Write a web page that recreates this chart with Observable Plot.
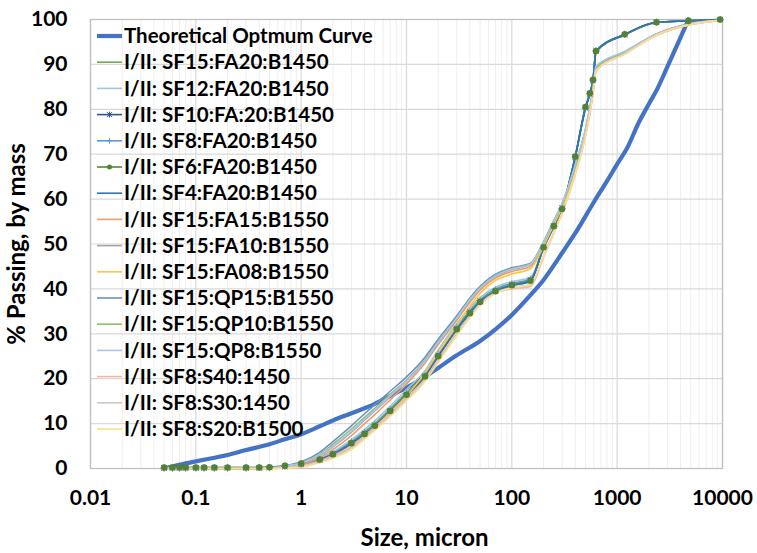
<!DOCTYPE html>
<html>
<head>
<meta charset="utf-8">
<script src="https://cdn.jsdelivr.net/npm/d3@7"></script>
<script src="https://cdn.jsdelivr.net/npm/@observablehq/plot@0.6"></script>
<style>
  html, body { margin: 0; padding: 0; background: #fff; }
  #chart { width: 757px; height: 553px; }
</style>
</head>
<body>
<div id="chart"></div>
<script>
// ---------- data ----------
const xTicks = [0.01, 0.1, 1, 10, 100, 1000, 10000];
const xTickLabels = ["0.01", "0.1", "1", "10", "100", "1000", "10000"];
const yTicks = [0, 10, 20, 30, 40, 50, 60, 70, 80, 90, 100];

const theorySizes = [0.05, 0.075, 0.1, 0.15, 0.2, 0.3, 0.5, 0.7, 1, 1.5, 2, 3, 5, 7, 10, 15, 20, 30, 50, 70, 100, 150, 200, 300, 400, 600, 800, 1000, 1240, 1600, 2000, 2400, 3000, 4000, 4750];
const theoryPassing = [0, 1.0, 1.6, 2.4, 3.0, 4.1, 5.4, 6.5, 7.6, 9.4, 10.7, 12.3, 14.4, 16.2, 18.0, 20.4, 22.4, 25.2, 28.4, 31.0, 34.2, 38.6, 42.0, 48.0, 52.4, 59.3, 64.0, 67.8, 71.3, 77.0, 81.2, 84.5, 89.5, 96.0, 100];

const sizes = [0.05, 0.06, 0.07, 0.08, 0.1, 0.12, 0.15, 0.2, 0.3, 0.4, 0.5, 0.7, 1, 1.5, 2, 3, 4, 5, 7, 10, 15, 20, 30, 40, 50, 70, 100, 150, 200, 250, 300, 400, 500, 550, 590, 630, 1180, 2360, 4750, 9500];

const sf15fa20 = [0.2,0.2,0.2,0.2,0.2,0.2,0.2,0.2,0.2,0.2,0.3, 0.5,1.0,2.1,3.4,6.0,8.2,10.0,13.3,16.9, 21.0,25.6,31.6,35.2,37.6,40.0,41.2,42.2,49.0,53.8, 57.8,69.3,80.3,83.3,86.3,92.8,96.6,99.3,99.7,100];
const sf12fa20 = [0,0,0,0,0,0,0,0,0.1,0.1,0.2, 0.5,1.1,2.3,3.7,6.4,8.7,10.6,13.9,17.6, 21.8,26.4,32.3,35.8,38.1,40.4,41.6,42.6,49.4,54.2, 58.2,69.6,80.4,83.5,86.6,92.9,96.6,99.3,99.7,100];
const sf10fa20 = [0.1,0.1,0.1,0.1,0.1,0.1,0.1,0.1,0.1,0.1,0.2, 0.4,0.9,1.9,3.2,5.7,7.8,9.6,12.9,16.5, 20.6,25.2,31.2,34.9,37.3,39.6,41.0,42.0,49.2,54.0, 58.0,69.4,80.3,83.4,86.4,92.9,96.6,99.4,99.7,100];
const sf8fa20 = [0.1,0.1,0.1,0.1,0.1,0.1,0.1,0.1,0.1,0.2,0.2, 0.5,1.0,2.0,3.3,5.9,8.0,9.8,13.1,16.7, 20.8,25.4,31.4,35.0,37.4,39.8,41.1,42.1,49.1,53.9, 57.9,69.4,80.2,83.5,86.5,93.0,96.7,99.4,99.7,100];
const sf6fa20 = [0.2,0.2,0.2,0.2,0.2,0.2,0.2,0.2,0.2,0.2,0.3, 0.6,1.1,2.0,3.2,5.6,7.7,9.5,12.8,16.4, 20.5,25.0,31.0,34.6,37.1,39.5,40.8,41.8,49.3,54.0, 57.8,69.5,80.5,83.6,86.6,93.0,96.7,99.4,99.7,100];
const sf4fa20 = [0,0,0,0,0,0,0,0,0,0.1,0.1, 0.4,0.9,1.9,3.1,5.5,7.6,9.4,12.6,16.2, 20.3,24.9,30.9,34.5,37.0,39.4,40.7,41.7,49.2,53.9, 57.9,69.4,80.2,83.4,86.4,93.0,96.7,99.4,99.7,100];
const sf15fa15 = [0,0,0,0,0,0,0,0,0,0,0.1, 0.3,0.9,2.4,4.2,7.3,10.0,12.0,15.3,18.8, 23.5,27.6,33.0,37.0,39.7,42.4,43.9,45.0,49.8,54.6, 58.4,66.8,74.8,79.6,84.0,88.8,92.5,96.6,98.9,99.8];
const sf15fa10 = [0,0,0,0,0,0,0,0,0,0,0.1, 0.4,1.1,2.8,4.8,8.1,10.8,12.8,16.0,19.4, 24.0,28.0,33.4,37.4,40.1,42.8,44.3,45.4,50.0,54.8, 58.6,67.0,75.0,79.8,84.2,89.0,92.6,96.7,98.9,99.8];
const sf15fa08 = [0,0,0,0,0,0,0,0,0,0,0, 0.1,0.4,1.5,2.6,4.8,7.2,9.2,12.5,16.2, 21.3,25.8,31.8,36.2,39.0,41.9,43.3,44.5,49.5,54.3, 58.1,66.5,74.6,79.4,83.8,88.6,92.4,96.5,98.8,99.8];
const sf15qp15 = [0,0,0,0,0,0,0,0,0,0,0.1, 0.6,1.5,3.6,6.0,9.5,12.2,14.2,17.2,20.4, 24.8,28.8,34.0,38.0,40.6,43.3,44.7,45.7,50.5,55.2, 59.0,67.5,75.5,80.3,84.5,89.5,92.8,96.8,99.0,99.8];
const sf15qp10 = [0,0,0,0,0,0,0,0,0,0,0.1, 0.5,1.3,3.2,5.4,8.8,11.4,13.4,16.5,19.7, 24.2,28.3,33.6,37.7,40.3,43.0,44.5,45.6,50.3,55.0, 58.8,67.3,75.3,80.1,84.3,89.3,92.7,96.7,99.0,99.8];
const sf15qp8 = [0,0,0,0,0,0,0,0,0,0,0.1, 0.5,1.2,3.0,5.0,8.3,11.0,13.0,16.2,19.5, 24.0,28.1,33.5,37.6,40.2,42.9,44.4,45.5,50.4,55.1, 59.0,67.6,75.6,80.4,84.6,89.6,92.9,96.8,99.0,99.8];
const sf8s40 = [0,0,0,0,0,0,0,0,0,0,0, 0.2,0.6,1.7,2.9,5.0,7.3,9.2,12.3,15.8, 20.0,24.3,30.2,34.0,36.7,39.1,40.0,40.5,47.0,52.3, 56.8,65.5,74.0,79.0,83.5,88.5,92.3,96.5,98.8,99.8];
const sf8s30 = [0,0,0,0,0,0,0,0,0,0,0, 0.2,0.5,1.5,2.6,4.6,6.9,8.9,12.0,15.5, 19.8,24.1,30.0,33.9,36.6,39.2,40.3,40.9,47.4,52.6, 57.0,65.8,74.2,79.2,83.7,88.7,92.4,96.5,98.8,99.8];
const sf8s20 = [0,0,0,0,0,0,0,0,0,0,0, 0.1,0.3,1.3,2.3,4.2,6.6,8.5,11.6,15.1, 19.4,23.6,29.6,33.6,36.4,39.0,40.2,41.0,47.2,52.4, 56.9,65.6,74.1,79.1,83.6,88.6,92.3,96.5,98.8,99.8];

const theoryName = "Theoretical Optmum Curve";
const seriesNames = [
  "I/II: SF15:FA20:B1450", "I/II: SF12:FA20:B1450", "I/II: SF10:FA:20:B1450",
  "I/II: SF8:FA20:B1450", "I/II: SF6:FA20:B1450", "I/II: SF4:FA20:B1450",
  "I/II: SF15:FA15:B1550", "I/II: SF15:FA10:B1550", "I/II: SF15:FA08:B1550",
  "I/II: SF15:QP15:B1550", "I/II: SF15:QP10:B1550", "I/II: SF15:QP8:B1550",
  "I/II: SF8:S40:1450", "I/II: SF8:S30:1450", "I/II: SF8:S20:B1500"
];
const seriesValues = [sf15fa20, sf12fa20, sf10fa20, sf8fa20, sf6fa20, sf4fa20,
  sf15fa15, sf15fa10, sf15fa08, sf15qp15, sf15qp10, sf15qp8, sf8s40, sf8s30, sf8s20];

// ---------- styling ----------
const theoryColor = "#4472C4";
const seriesColors = ["#70AD47", "#9DC3E6", "#2F5597", "#5B9BD5", "#548235", "#2E75B6",
  "#F19A6B", "#A5A5A5", "#FFC53D", "#6A8FD0", "#8CC168", "#A9C4EB",
  "#F4B6A0", "#C9C9C9", "#FFDD8A"];
const seriesMarkers = [null, null, "times", "plus", "dot", null, null, null, null, null, null, null, null, null, null];

// ---------- build tables ----------
const theoryRows = theorySizes.map((s, i) => ({size: s, passing: theoryPassing[i]}));
const rows = [];
seriesNames.forEach((name, k) => {
  sizes.forEach((s, i) => rows.push({series: name, k, size: s, passing: seriesValues[k][i]}));
});
const minorTicks = [];
for (let e = -2; e < 4; e++) for (let m = 2; m <= 9; m++) minorTicks.push(m * Math.pow(10, e));

const font = "Lato, 'Open Sans', sans-serif";

const lineMarks = seriesNames.map((name, k) =>
  Plot.line(rows.filter(d => d.k === k), {x: "size", y: "passing", stroke: seriesColors[k], strokeWidth: 1.6, curve: "monotone-x"})
);
const markerMarks = [];
seriesNames.forEach((name, k) => {
  const m = seriesMarkers[k];
  const data = rows.filter(d => d.k === k);
  if (m === "dot") markerMarks.push(Plot.dot(data, {x: "size", y: "passing", r: 2.5, fill: seriesColors[k], stroke: seriesColors[k]}));
  if (m === "times") markerMarks.push(Plot.dot(data, {x: "size", y: "passing", r: 2.5, symbol: "times", stroke: seriesColors[k], strokeWidth: 1}));
  if (m === "plus") markerMarks.push(Plot.dot(data, {x: "size", y: "passing", r: 2.5, symbol: "plus", stroke: seriesColors[k], strokeWidth: 1}));
});

const chart = Plot.plot({
  width: 757,
  height: 553,
  marginLeft: 90,
  marginRight: 35,
  marginTop: 19,
  marginBottom: 85,
  style: {fontFamily: font, background: "white", overflow: "visible", color: "#000"},
  x: {type: "log", domain: [0.01, 10000]},
  y: {domain: [0, 100]},
  marks: [
    Plot.ruleX(minorTicks, {stroke: "#efefef", strokeWidth: 1}),
    Plot.ruleX(xTicks, {stroke: "#d9d9d9", strokeWidth: 1.2}),
    Plot.ruleY(yTicks, {stroke: "#d9d9d9", strokeWidth: 1.2}),
    Plot.frame({stroke: "#bfbfbf", strokeWidth: 1.3}),
    Plot.axisX({ticks: xTicks, tickFormat: (d) => xTickLabels[xTicks.indexOf(d)], tickSize: 0, tickPadding: 22, fontSize: 21, fontWeight: "bold", label: null, fill: "#000"}),
    Plot.axisY({ticks: yTicks, tickSize: 0, tickPadding: 23, fontSize: 21, fontWeight: "bold", label: null, fill: "#000"}),
    Plot.text(["Size, micron"], {frameAnchor: "bottom", textAnchor: "middle", dy: 77, dx: 18, fontSize: 24, fontWeight: "bold", fill: "#000"}),
    Plot.text(["% Passing, by mass"], {frameAnchor: "left", textAnchor: "middle", rotate: -90, dx: -73, fontSize: 24, fontWeight: "bold", fill: "#000"}),
    Plot.line(theoryRows, {x: "size", y: "passing", stroke: theoryColor, strokeWidth: 4.2, curve: "monotone-x"}),
    ...lineMarks,
    ...markerMarks
  ]
});
document.getElementById("chart").appendChild(chart);

// ---------- legend (inside plot, top-left) ----------
const svg = d3.select(chart);
const lg = svg.append("g").attr("font-family", font).attr("font-weight", "bold").attr("font-size", 20.5).attr("text-anchor", "start");
const legendItems = [{name: theoryName, color: theoryColor, width: 4.2, marker: null}]
  .concat(seriesNames.map((n, k) => ({name: n, color: seriesColors[k], width: 1.6, marker: seriesMarkers[k]})));
legendItems.forEach((it, i) => {
  const y = 36 + i * 26.2;
  const g = lg.append("g").attr("transform", `translate(0,${y})`);
  g.append("line").attr("x1", 97).attr("x2", 122).attr("y1", 0).attr("y2", 0)
    .attr("stroke", it.color).attr("stroke-width", it.width);
  if (it.marker === "dot") g.append("circle").attr("cx", 109.5).attr("cy", 0).attr("r", 2.5).attr("fill", it.color);
  if (it.marker === "times") g.append("path").attr("d", "M107,-2.5L112,2.5M107,2.5L112,-2.5M109.5,-3L109.5,3").attr("stroke", it.color).attr("stroke-width", 1);
  if (it.marker === "plus") g.append("path").attr("d", "M106.5,0L112.5,0M109.5,-3L109.5,3").attr("stroke", it.color).attr("stroke-width", 1);
  g.append("text").attr("x", 124).attr("y", 0).attr("dy", "0.35em").attr("fill", "#000").attr("text-anchor", "start").text(it.name);
});
</script>
</body>
</html>
